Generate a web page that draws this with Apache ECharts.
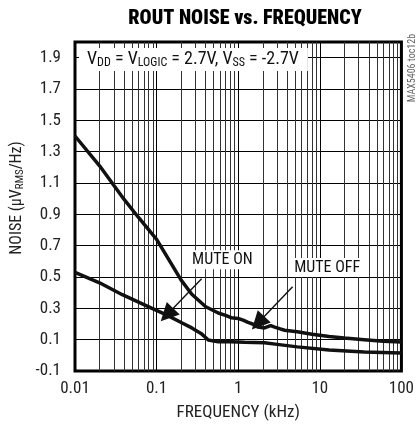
<!DOCTYPE html>
<html>
<head>
<meta charset="utf-8">
<script src="https://cdn.jsdelivr.net/npm/echarts@6/dist/echarts.min.js"></script>
<style>
  html, body { margin: 0; padding: 0; background: #fff; }
  #chart { width: 417px; height: 433px; }
</style>
</head>
<body>
<div id="chart"></div>
<script>
// Output noise spectral density, frequency in kHz, noise in µVRMS/√Hz
const muteOff = [
  [0.01, 1.40], [0.02, 1.21], [0.04, 0.995], [0.06, 0.88], [0.1, 0.74],
  [0.2, 0.48], [0.27, 0.39], [0.4, 0.31], [0.57, 0.27], [0.7, 0.255],
  [0.82, 0.24], [1.0, 0.235], [1.15, 0.225], [1.32, 0.21], [1.5, 0.20],
  [1.75, 0.18], [2.1, 0.175], [2.5, 0.19], [2.8, 0.18], [3.2, 0.17],
  [3.7, 0.16], [5.3, 0.15], [8, 0.135], [13, 0.12], [20, 0.11],
  [35, 0.10], [60, 0.09], [100, 0.085]
];
const muteOn = [
  [0.01, 0.53], [0.02, 0.463], [0.038, 0.387], [0.088, 0.30], [0.13, 0.26],
  [0.2, 0.21], [0.27, 0.175], [0.35, 0.14], [0.43, 0.098], [0.57, 0.086],
  [0.82, 0.086], [1.2, 0.083], [2.1, 0.08], [3, 0.07], [5.3, 0.054],
  [13, 0.034], [35, 0.022], [100, 0.015]
];
const xTickLabels = ['0.01', '0.1', '1', '10', '100'];
const yMin = -0.1, yMax = 2.0, yStep = 0.2;
// Intermediate decade lines (2..9 of each decade)
const minorFreqs = [];
[0.01, 0.1, 1, 10].forEach(d => { for (let k = 2; k <= 9; k++) minorFreqs.push(+(d * k).toPrecision(3)); });

const FONT = "'Liberation Sans Narrow', 'Arial Narrow', 'Roboto Condensed', 'Liberation Sans', sans-serif";

const arrowLine = (from, to) => ({
  silent: true, animation: false, symbol: ['none', 'triangle'], symbolSize: 18,
  label: { show: false }, lineStyle: { color: '#111', width: 1.4, type: 'solid' },
  itemStyle: { color: '#111' },
  data: [[{ coord: from }, { coord: to }]]
});
const noteLabel = (text, at) => ({
  silent: true, symbol: 'rect', symbolSize: 1, itemStyle: { color: 'rgba(0,0,0,0)' },
  label: {
    show: true, formatter: text, position: 'inside',
    fontFamily: FONT, fontSize: 16, color: '#111',
    backgroundColor: '#fff', padding: [2, 3, 1, 3]
  },
  data: [{ coord: at }]
});

const chart = echarts.init(document.getElementById('chart'), null, { renderer: 'canvas' });

chart.setOption({
  animation: false,
  backgroundColor: '#fff',
  title: {
    text: 'ROUT NOISE vs. FREQUENCY',
    left: 240, top: 4, textAlign: 'center',
    textStyle: { fontFamily: FONT, fontWeight: 900, fontSize: 20, color: '#000' }
  },
  grid: {
    left: 75, right: 12, top: 42, bottom: 62,
    show: true, borderColor: '#000', borderWidth: 3, backgroundColor: 'transparent'
  },
  xAxis: {
    type: 'log', logBase: 10, min: 0.01, max: 100,
    name: 'FREQUENCY (kHz)', nameLocation: 'middle', nameGap: 33,
    nameTextStyle: { fontFamily: FONT, fontSize: 17, color: '#222' },
    axisLine: { show: false }, axisTick: { show: false },
    axisLabel: {
      fontFamily: FONT, fontSize: 17, color: '#222', margin: 9,
      formatter: v => {
        const i = Math.round(Math.log10(v)) + 2;
        return xTickLabels[i] !== undefined ? xTickLabels[i] : '';
      }
    },
    splitLine: { show: true, lineStyle: { color: '#000', width: 1 } },
    minorTick: { show: false }, minorSplitLine: { show: false }
  },
  yAxis: {
    type: 'value', min: yMin, max: yMax, interval: yStep,
    axisLine: { show: false }, axisTick: { show: false },
    axisLabel: {
      fontFamily: FONT, fontSize: 17, color: '#222', margin: 14, showMaxLabel: false,
      formatter: v => v.toFixed(1)
    },
    splitLine: { show: true, lineStyle: { color: '#000', width: 1 } }
  },
  series: [
    {
      // minor decade gridlines
      type: 'line', data: [], silent: true, z: 1,
      markLine: {
        silent: true, symbol: 'none', animation: false,
        label: { show: false },
        lineStyle: { color: '#333', width: 1, type: 'solid' },
        data: minorFreqs.map(f => ({ xAxis: f }))
      }
    },
    {
      name: 'MUTE OFF', type: 'line', data: muteOff, showSymbol: false,
      lineStyle: { color: '#111', width: 3.5 }, z: 5,
      markLine: arrowLine([4.64, 0.438], [1.75, 0.207]),
      markPoint: noteLabel('MUTE OFF', [12.3, 0.56])
    },
    {
      name: 'MUTE ON', type: 'line', data: muteOn, showSymbol: false,
      lineStyle: { color: '#111', width: 3.5 }, z: 5,
      markLine: arrowLine([0.356, 0.489], [0.134, 0.259]),
      markPoint: noteLabel('MUTE ON', [0.64, 0.61])
    }
  ],
  graphic: [
    {
      type: 'text', x: 17, y: 198, rotation: Math.PI / 2, z: 100,
      style: {
        text: '{n|NOISE (µV}{s|RMS}{n|/Hz)}',
        align: 'center', verticalAlign: 'middle',
        rich: {
          n: { fontFamily: FONT, fontSize: 16, fill: '#222' },
          s: { fontFamily: FONT, fontSize: 11, fill: '#222', padding: [7, 0, 0, 0] }
        }
      }
    },
    {
      // supply condition note, boxed in white over the grid
      type: 'text', left: 79, top: 48, z: 100,
      style: {
        text: '{v|V}{s|DD}{v| = V}{s|LOGIC}{v| = 2.7V, V}{s|SS}{v| = -2.7V}',
        backgroundColor: '#fff', padding: [2, 9, 2, 8],
        rich: {
          v: { fontFamily: FONT, fontSize: 18, fill: '#111' },
          s: { fontFamily: FONT, fontSize: 12, fill: '#111', padding: [7, 0, 0, 0] }
        }
      }
    },
    {
      type: 'text', x: 412, y: 68, rotation: Math.PI / 2, z: 100,
      style: {
        text: 'MAX5406 toc12b', fontFamily: FONT, fontSize: 10, fill: '#666',
        align: 'center', verticalAlign: 'middle'
      }
    }
  ]
});
</script>
</body>
</html>
